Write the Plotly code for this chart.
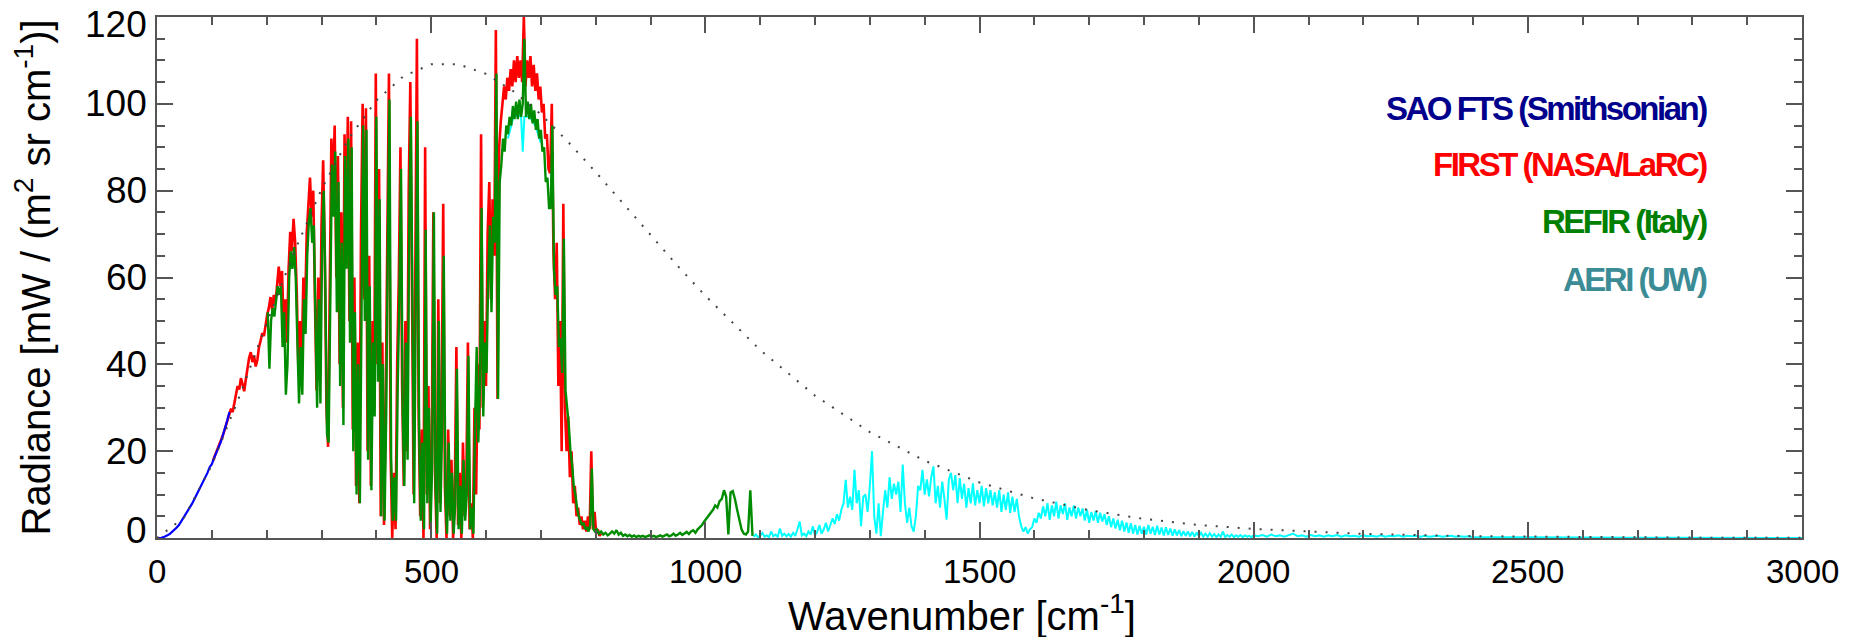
import numpy as np
import plotly.graph_objects as go

# ---------------- data ----------------
# SAO FTS (Smithsonian), 0-132 cm-1, step 4
sao_x0, sao_dx = 0, 4
sao_y = [0.0, 0.0, 0.05, 0.2, 0.4, 0.7, 1.0, 1.4, 1.9, 2.4,
         3.0, 3.8, 4.4, 5.3, 6.1, 6.9, 7.9, 8.9, 9.9, 11.0,
         12.0, 13.0, 13.9, 15.0, 16.3, 17.0, 18.4, 19.6, 20.5, 22.0,
         23.6, 25.2, 27.0, 29.0]

# FIRST (NASA/LaRC), 102-810 cm-1, step 3
first_x0, first_dx = 102, 3
first_y = [17.8, 18.7, 19.6, 20.6, 21.5, 22.6, 23.6, 24.8, 26.0, 27.2,
           28.6, 29.8, 29.0, 31.0, 33.0, 35.0, 34.2, 36.8, 35.5, 33.8,
           36.5, 39.5, 41.5, 42.8, 40.5, 42.0, 39.5, 41.0, 44.0, 45.5,
           47.2, 46.5, 49.5, 51.5, 53.0, 55.5, 52.5, 56.0, 54.0, 59.0,
           62.5, 58.0, 61.5, 48.0, 55.0, 45.0, 62.0, 70.5, 66.0, 73.5,
           68.0, 56.0, 38.0, 50.0, 42.0, 60.0, 52.0, 70.0, 78.0, 83.0,
           74.0, 80.0, 55.0, 34.0, 60.0, 36.0, 72.0, 87.0, 66.0, 30.0,
           21.0, 55.0, 92.0, 80.0, 95.0, 60.0, 88.0, 40.0, 75.0, 30.0,
           93.0, 70.0, 97.0, 50.0, 96.0, 25.0, 60.0, 12.0, 45.0, 8.0,
           70.0, 100.0, 55.0, 99.0, 20.0, 65.0, 12.0, 50.0, 30.0, 107.0,
           40.0, 85.0, 5.0, 45.0, 3.0, 30.0, 75.0, 107.0, 20.0, 0.0,
           15.0, 2.0, 40.0, 60.0, 90.0, 35.0, 12.0, 50.0, 20.0, 80.0,
           105.0, 45.0, 10.0, 60.0, 115.0, 30.0, 5.0, 25.0, 0.0, 90.0,
           10.0, 35.0, 2.0, 20.0, 75.0, 15.0, 0.0, 55.0, 8.0, 30.0,
           77.0, 12.0, 0.0, 25.0, 5.0, 18.0, 0.0, 10.0, 44.0, 3.0,
           15.0, 0.0, 22.0, 5.0, 12.0, 45.0, 2.0, 8.0, 0.0, 30.0,
           10.0, 40.0, 25.0, 93.0, 30.0, 50.0, 35.0, 70.0, 82.0, 55.0,
           78.0, 65.0, 117.0, 32.0, 90.0, 96.0, 100.0, 104.0, 101.0, 106.0,
           103.0, 108.0, 104.0, 110.0, 105.0, 111.0, 106.0, 110.0, 105.0, 120.0,
           104.0, 110.0, 106.0, 111.0, 104.0, 109.0, 103.0, 107.0, 101.0, 104.0,
           98.0, 100.0, 92.0, 93.0, 85.0, 84.0, 100.0, 66.0, 55.0, 68.0,
           35.0, 50.0, 20.0, 77.0, 30.0, 20.0, 28.0, 14.0, 20.0, 8.0,
           12.0, 5.0, 7.0, 3.0, 5.0, 2.0, 4.0, 1.5, 5.0, 2.0,
           20.0, 2.0, 6.0, 1.0, 2.0, 0.5, 1.0]

# REFIR (Italy), part A: 202-799 cm-1 step 3 ; part B: 802-1086 step 4
refir_a_x0, refir_a_dx = 202, 3
refir_a_y = [52.0, 39.0, 50.0, 53.0, 51.0, 55.0, 58.0, 56.0, 58.0, 44.0,
             52.0, 33.0, 40.0, 60.0, 66.0, 62.0, 67.0, 60.0, 45.0, 31.0,
             44.0, 33.0, 55.0, 47.0, 65.0, 73.0, 76.0, 68.0, 72.0, 48.0,
             30.0, 55.0, 31.0, 66.0, 80.0, 58.0, 24.0, 22.0, 50.0, 86.0,
             74.0, 89.0, 52.0, 82.0, 35.0, 68.0, 26.0, 88.0, 62.0, 92.0,
             45.0, 90.0, 20.0, 52.0, 10.0, 40.0, 8.0, 64.0, 95.0, 50.0,
             94.0, 18.0, 58.0, 11.0, 45.0, 28.0, 97.0, 36.0, 78.0, 5.0,
             40.0, 4.0, 28.0, 68.0, 101.0, 18.0, 4.0, 14.0, 4.0, 35.0,
             55.0, 85.0, 30.0, 12.0, 45.0, 18.0, 72.0, 97.0, 40.0, 8.0,
             55.0, 96.0, 25.0, 4.0, 22.0, 2.0, 71.0, 8.0, 30.0, 3.0,
             18.0, 75.0, 12.0, 1.0, 50.0, 6.0, 26.0, 65.0, 10.0, 1.0,
             22.0, 4.0, 15.0, 1.0, 8.0, 39.0, 2.0, 12.0, 1.0, 18.0,
             4.0, 10.0, 42.0, 2.0, 7.0, 1.0, 26.0, 44.0, 22.0, 35.0,
             76.0, 28.0, 45.0, 38.0, 60.0, 72.0, 52.0, 74.0, 68.0, 107.0,
             32.0, 82.0, 86.0, 92.0, 89.0, 95.0, 93.0, 97.0, 95.0, 99.5,
             96.5, 100.5, 96.5, 101.0, 97.0, 100.0, 115.0, 97.0, 100.5, 96.5,
             100.0, 95.5, 98.5, 94.0, 96.5, 92.0, 94.0, 89.0, 90.0, 82.0,
             83.0, 76.0, 76.0, 95.0, 62.0, 56.0, 58.0, 44.0, 46.0, 38.0,
             69.0, 34.0, 30.0, 26.0, 20.0, 17.0, 12.0, 10.0, 7.0, 5.0,
             4.0, 3.0, 3.5, 2.0, 2.5, 1.5, 3.0, 16.0, 2.0, 1.5]
refir_b_x0, refir_b_dx = 802, 4
refir_b_y = [2.0, 1.0, 1.5, 0.8, 1.2, 0.6, 1.0, 1.5, 1.0, 1.8,
             0.8, 1.2, 0.5, 0.8, 0.4, 0.7, 0.3, 0.6, 0.2, 0.5,
             0.3, 0.5, 0.2, 0.4, 0.6, 0.3, 0.5, 0.2, 0.4, 0.6,
             0.3, 0.5, 0.8, 0.4, 0.6, 1.0, 0.5, 0.8, 1.2, 0.7,
             1.0, 1.4, 0.9, 1.5, 1.8, 1.2, 2.0, 2.5, 3.0, 3.8,
             4.5, 5.0, 5.8, 6.5, 7.5, 7.0, 8.5, 9.0, 11.0, 9.5,
             0.8, 10.5, 10.8, 9.0, 6.5, 4.0, 2.0, 1.0, 0.8, 1.5,
             11.0, 0.5]

# AERI (UW): short stretch inside the CO2 band, then 1088-2000 step 4,
# 2008-2400 step 8, 2450-3000 step 50
aeri_band_x = [640, 650, 660, 664, 667, 670, 680, 690, 700]
aeri_band_y = [92.0, 97.0, 97.5, 97.0, 89.0, 97.0, 97.0, 95.0, 91.0]
aeri_a_x0, aeri_a_dx = 1088, 4
aeri_a_y = [0.3, 0.8, 0.2, 0.5, 1.2, 0.3, 0.6, 0.2, 1.5, 0.4,
            0.8, 0.3, 2.2, 0.5, 1.0, 0.4, 0.9, 0.3, 1.2, 0.5,
            2.0, 3.8, 0.6, 1.0, 0.4, 1.5, 0.8, 2.7, 0.6, 1.4,
            3.0, 1.0, 2.0, 3.5, 1.5, 3.0, 4.5, 3.2, 5.5, 4.0,
            6.5,
            8.0, 13.4, 7.0, 9.5, 6.5, 15.7, 8.0, 11.0, 2.7, 9.5,
            10.0, 6.0, 12.0, 20.0, 5.0, 1.0, 8.0, 0.4, 6.0, 11.0,
            7.0, 14.0, 9.0, 12.5, 10.0, 13.0, 6.0, 16.9, 8.0, 3.5,
            7.0, 2.7, 1.5, 5.0, 12.0, 11.0, 15.7, 10.0, 13.5, 9.6,
            14.0, 16.5, 8.0, 12.0, 7.0, 13.0, 9.0, 4.2, 13.4, 15.0,
            11.0, 14.5, 8.0, 13.8, 9.0, 12.5, 7.0, 11.5, 8.0, 12.6,
            7.5, 11.0, 8.0,
            12.0, 7.3, 11.5, 8.0, 11.0, 7.5, 10.5, 7.0, 11.0, 6.0,
            10.0, 6.5, 10.5, 5.8, 9.5, 6.0, 9.0, 5.0, 2.7, 1.5,
            2.5, 1.0, 2.0, 2.5, 4.5, 3.5, 5.8, 4.5, 7.3, 5.0,
            8.0, 4.2, 7.5, 5.0, 8.4, 4.5, 7.5, 5.5, 8.0, 4.2,
            7.0, 5.0, 7.5, 4.5, 7.0, 5.0, 6.8, 4.0, 6.5, 3.5,
            6.0, 4.0, 6.2, 3.5, 5.8, 3.8, 5.5, 3.0, 5.0, 2.5,
            4.5, 2.2, 4.2, 1.8, 4.0, 1.5, 3.6, 1.2, 3.4, 1.0,
            3.0, 0.8, 2.8, 1.0, 2.6,
            0.8, 3.0, 1.0, 2.6, 0.7, 2.8, 0.8, 2.4, 0.6, 2.5,
            0.7, 2.2, 0.5, 2.0, 0.6, 1.8, 0.4, 1.6, 0.5, 1.5,
            0.4, 1.4, 0.3, 1.3, 0.4, 1.2, 0.3, 1.0, 0.3, 1.1,
            0.3, 0.9, 0.2, 0.8, 0.3, 1.5, 0.2, 0.7, 0.3, 0.8,
            0.2, 0.6, 0.3, 0.7, 0.2, 0.6, 0.3, 0.5, 0.2, 0.6]
aeri_b_x0, aeri_b_dx = 2008, 8
aeri_b_y = [0.4, 0.7, 0.3, 0.8, 0.4, 0.6, 0.3, 0.7, 1.0, 0.4,
            0.6, 0.3, 0.7, 0.4, 0.6, 0.3, 0.6, 0.4, 0.7, 0.3,
            0.6, 0.4, 0.5, 0.3, 0.6, 0.4, 0.5, 0.3, 0.6, 0.3,
            0.5, 0.4, 0.6, 0.3, 0.5, 0.4, 0.5, 0.3, 0.5, 0.3,
            0.4, 0.5, 0.3, 0.4, 0.5, 0.3, 0.4, 0.3, 0.4, 0.2]
aeri_c_x0, aeri_c_dx = 2450, 50
aeri_c_y = [0.15, 0.1, 0.1, 0.08, 0.06, 0.05, 0.05, 0.04, 0.03, 0.03, 0.02, 0.02]

# Dotted reference curve (blackbody-like envelope)
ref_x = [0, 50, 100, 150, 200, 250, 300, 350, 400, 450, 500, 550, 600, 650,
         700, 750, 800, 850, 900, 950, 1000, 1100, 1200, 1300, 1400, 1500,
         1600, 1700, 1800, 1900, 2000, 2200, 2400, 2600, 2800, 3000]
ref_y = [0.0, 4.8, 16.8, 32.5, 49.5, 65.8, 80.3, 92.1, 100.8, 106.4, 109.1,
         109.1, 106.9, 102.9, 97.6, 91.2, 84.3, 77.1, 69.8, 62.6, 55.8, 43.3,
         32.8, 24.4, 17.8, 12.8, 9.1, 6.4, 4.4, 3.0, 2.1, 0.94, 0.42, 0.18,
         0.08, 0.03]

x_ticks = [0, 500, 1000, 1500, 2000, 2500, 3000]
y_ticks = [0, 20, 40, 60, 80, 100, 120]

legend_labels = ["SAO FTS (Smithsonian)", "FIRST (NASA/LaRC)", "REFIR (Italy)", "AERI (UW)"]
legend_colors = ["#00008C", "#FF0000", "#008000", "#3C8C96"]


def grid(x0, dx, ys):
    return x0 + dx * np.arange(len(ys))


# ---------------- figure ----------------
fig = go.Figure()

aeri_x = np.concatenate([grid(aeri_a_x0, aeri_a_dx, aeri_a_y),
                         grid(aeri_b_x0, aeri_b_dx, aeri_b_y),
                         grid(aeri_c_x0, aeri_c_dx, aeri_c_y)])
aeri_y = np.concatenate([aeri_a_y, aeri_b_y, aeri_c_y])

fig.add_trace(go.Scatter(x=aeri_band_x, y=aeri_band_y, mode="lines",
                         line=dict(color="#00FFFF", width=2.0), hoverinfo="skip"))
fig.add_trace(go.Scatter(x=aeri_x, y=aeri_y, mode="lines",
                         line=dict(color="#00FFFF", width=2.0), hoverinfo="skip"))
fig.add_trace(go.Scatter(x=grid(first_x0, first_dx, first_y), y=first_y, mode="lines",
                         line=dict(color="#FF0000", width=2.6), hoverinfo="skip"))
refir_x = np.concatenate([grid(refir_a_x0, refir_a_dx, refir_a_y),
                          grid(refir_b_x0, refir_b_dx, refir_b_y)])
refir_y = np.concatenate([refir_a_y, refir_b_y])
fig.add_trace(go.Scatter(x=refir_x, y=refir_y, mode="lines",
                         line=dict(color="#008C00", width=2.4), hoverinfo="skip"))
fig.add_trace(go.Scatter(x=grid(sao_x0, sao_dx, sao_y), y=sao_y, mode="lines",
                         line=dict(color="#0000FF", width=2.2), hoverinfo="skip"))
fig.add_trace(go.Scatter(x=ref_x, y=ref_y, mode="lines",
                         line=dict(color="#444444", width=2.0, dash="2px,9px"),
                         hoverinfo="skip"))

L, R, T, B = 157, 50, 17, 99
W, H = 1852, 637
pw, ph = W - L - R, H - T - B

axis_common = dict(showline=True, linecolor="#555555", linewidth=2, mirror="allticks",
                   ticks="inside", ticklen=16, tickwidth=1.5, tickcolor="#555555",
                   showgrid=False, zeroline=False, tickmode="array",
                   autorange=False, showticklabels=False)

fig.update_layout(
    width=W, height=H,
    margin=dict(l=L, r=R, t=T, b=B, pad=0),
    paper_bgcolor="white", plot_bgcolor="white",
    showlegend=False,
    xaxis=dict(range=[0, 3000], tickvals=x_ticks,
               minor=dict(dtick=100, ticks="inside", ticklen=8, tickwidth=1.5,
                          tickcolor="#555555", showgrid=False),
               **axis_common),
    yaxis=dict(range=[0, 120], tickvals=y_ticks,
               minor=dict(dtick=5, ticks="inside", ticklen=8, tickwidth=1.5,
                          tickcolor="#555555", showgrid=False),
               **axis_common),
)

# tick labels as text annotations placed through the axes
for xv in x_ticks:
    fig.add_annotation(xref="x", yref="paper", x=xv, y=(538.5 - 572) / ph,
                       text=str(xv), showarrow=False, xanchor="center", yanchor="middle",
                       font=dict(family="Liberation Sans, Arial, sans-serif", size=33,
                                 color="#000000"))
for yv in y_ticks:
    shift = 8 if yv == 0 else (-7 if yv == 120 else 0)
    fig.add_annotation(xref="paper", yref="y", x=(149 - L) / pw, y=yv, yshift=shift,
                       text=str(yv), showarrow=False, xanchor="right", yanchor="middle",
                       font=dict(family="Liberation Sans, Arial, sans-serif", size=37,
                                 color="#000000"))

fig.add_annotation(xref="paper", yref="paper", x=(962 - L) / pw, y=(538.5 - 613) / ph,
                   text="Wavenumber [cm<sup>-1</sup>]", showarrow=False,
                   xanchor="center", yanchor="middle",
                   font=dict(family="Liberation Sans, Arial, sans-serif", size=40,
                             color="#000000"))
fig.add_annotation(xref="paper", yref="paper", x=(33 - L) / pw, y=0.5,
                   text="Radiance [mW / (m<sup>2</sup> sr cm<sup>-1</sup>)]",
                   showarrow=False, textangle=-90,
                   xanchor="center", yanchor="middle",
                   font=dict(family="Liberation Sans, Arial, sans-serif", size=40,
                             color="#000000"))

legend_py = [109, 165, 222, 280]
for lab, col, py in zip(legend_labels, legend_colors, legend_py):
    fig.add_annotation(xref="paper", yref="paper", x=(1709 - L) / pw,
                       y=(538.5 - py) / ph,
                       text="<span style='letter-spacing:-2.5px'><b>" + lab + "</b></span>",
                       showarrow=False, xanchor="right", yanchor="middle",
                       font=dict(family="Liberation Sans, Arial, sans-serif",
                                 size=33, color=col))

fig.write_html("out.html")
